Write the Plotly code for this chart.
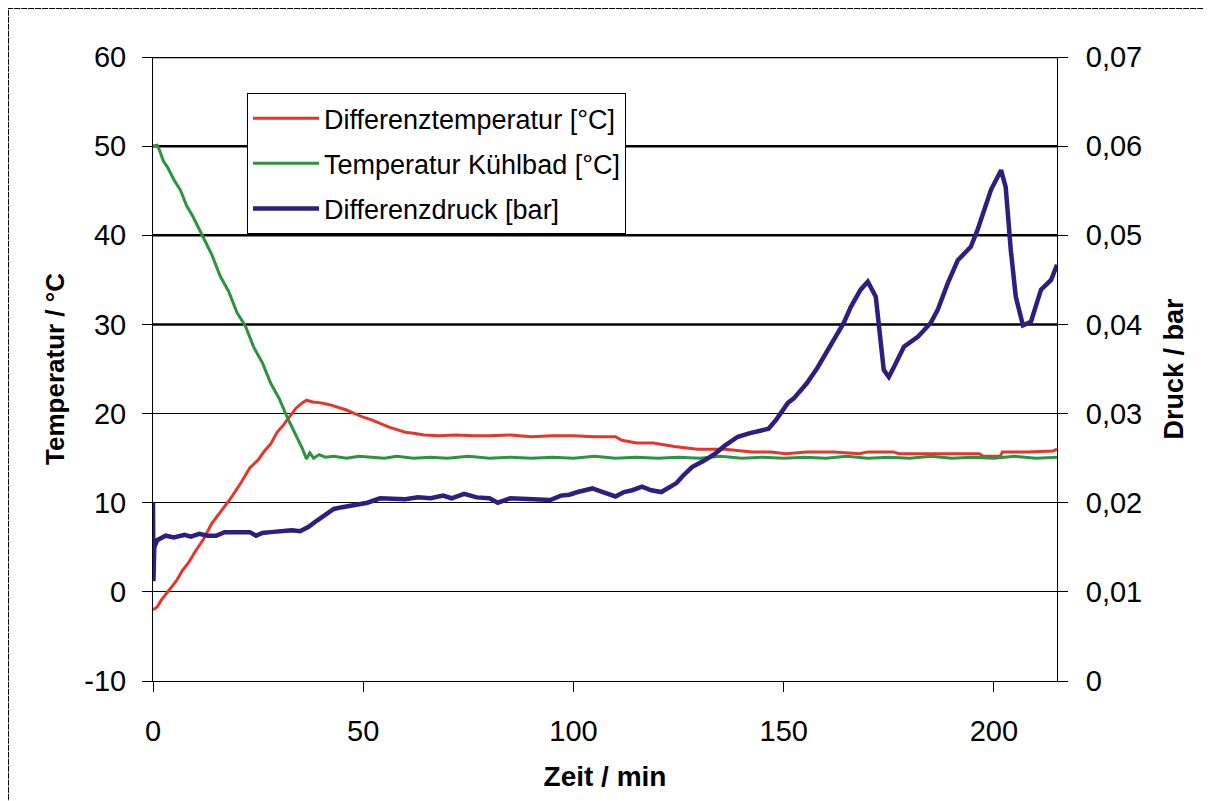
import plotly.graph_objects as go

# ---------------- data ----------------
time_red = [0, 1, 2, 3, 4, 5.5, 7, 8.5, 10, 12,
            14, 16.5, 18.5, 21, 23, 25, 26.5, 28, 29.5, 31,
            32.5, 34, 35.5, 36.5, 38, 40, 42, 44, 46, 48,
            50, 52, 54, 56, 58, 60, 62, 64.5, 68, 72,
            76, 80, 85, 90, 95, 100, 105, 110, 111.5, 115,
            119, 124, 129.5, 136, 142.5, 147, 150.5, 155.5, 162, 168,
            170, 176, 177.5, 186, 196.5, 197.5, 201.5, 202, 208, 214,
            215]
diff_temp = [-2.0, -1.7, -0.9, -0.3, 0.2, 1.2, 2.4, 3.3, 4.5, 5.9,
             7.7, 9.3, 10.5, 12.3, 13.9, 14.8, 15.8, 16.6, 17.9, 18.7,
             19.7, 20.6, 21.2, 21.5, 21.3, 21.2, 21.0, 20.7, 20.4, 20.0,
             19.6, 19.3, 18.9, 18.5, 18.2, 17.9, 17.8, 17.6, 17.5, 17.6,
             17.5, 17.5, 17.6, 17.4, 17.5, 17.5, 17.4, 17.4, 17.0, 16.7,
             16.7, 16.3, 16.0, 16.0, 15.7, 15.7, 15.5, 15.7, 15.7, 15.5,
             15.7, 15.7, 15.5, 15.5, 15.5, 15.2, 15.2, 15.7, 15.7, 15.8,
             16.0]

time_green = [0, 1, 1.5, 2.5, 3.5, 5, 6.5, 8, 9.5, 11,
              12.5, 14, 16, 18, 20, 22, 24, 26, 28, 30,
              32, 34, 35.5, 36.5, 37.3, 38.2, 39.5, 41, 43, 46,
              49, 52, 55, 58, 62, 66, 70, 75, 80, 85,
              90, 95, 100, 105, 110, 115, 120, 125, 130, 135,
              140, 145, 150, 155, 160, 165, 170, 175, 180, 185,
              190, 195, 200, 205, 210, 215]
bath_temp = [50.0, 50.1, 49.6, 48.3, 47.6, 46.2, 45.1, 43.3, 42.1, 40.7,
             39.3, 37.8, 35.4, 33.7, 31.3, 29.8, 27.4, 25.7, 23.4, 21.7,
             19.5, 17.6, 16.1, 14.9, 15.6, 15.0, 15.4, 15.1, 15.2, 15.0,
             15.2, 15.1, 15.0, 15.2, 15.0, 15.1, 15.0, 15.2, 15.0, 15.1,
             15.0, 15.1, 15.0, 15.2, 15.0, 15.1, 15.0, 15.1, 15.0, 15.2,
             15.0, 15.1, 15.0, 15.1, 15.0, 15.2, 15.0, 15.1, 15.0, 15.2,
             15.0, 15.1, 15.0, 15.2, 15.0, 15.1]

time_blue = [0, 0.1, 0.3, 1, 3, 5, 7.5, 9, 11, 13,
             15, 17, 19, 21, 23, 24.5, 26, 28, 30, 33,
             35, 37, 39, 41, 43, 45, 47, 49, 51, 54,
             57, 60, 63, 66, 69, 71, 74, 77, 80, 82,
             85, 88, 91, 94.5, 97, 99, 101, 104.5, 107, 110,
             112, 114, 116.3, 118.5, 120.9, 122.5, 124.5, 126, 128.2, 131,
             133.7, 136, 139.1, 142, 146.4, 148.2, 151, 152.4, 155.5, 158.1,
             161, 164.3, 166, 168.3, 170, 171.9, 173.8, 175, 176.2, 178.6,
             181.9, 185, 186.6, 189, 191.4, 194.5, 196.1, 197.6, 199.3, 201.7,
             202.8, 204, 205.2, 206.9, 208.8, 211.2, 213.6, 215]
diff_press = [0.0200, 0.0112, 0.0150, 0.0158, 0.0163, 0.0161, 0.0164, 0.0162, 0.0165, 0.0163,
              0.0163, 0.0167, 0.0167, 0.0166, 0.0167, 0.0163, 0.0166, 0.0167, 0.0168, 0.0169,
              0.0168, 0.0173, 0.0180, 0.0186, 0.0193, 0.0195, 0.0197, 0.0199, 0.0200, 0.0205,
              0.0205, 0.0204, 0.0206, 0.0205, 0.0208, 0.0205, 0.0210, 0.0206, 0.0205, 0.0200,
              0.0205, 0.0204, 0.0203, 0.0203, 0.0208, 0.0209, 0.0212, 0.0216, 0.0212, 0.0207,
              0.0212, 0.0214, 0.0218, 0.0214, 0.0212, 0.0217, 0.0222, 0.0230, 0.0240, 0.0247,
              0.0255, 0.0264, 0.0274, 0.0278, 0.0283, 0.0293, 0.0312, 0.0317, 0.0334, 0.0352,
              0.0375, 0.0402, 0.0420, 0.0439, 0.0448, 0.0431, 0.0349, 0.0341, 0.0352, 0.0375,
              0.0386, 0.0402, 0.0416, 0.0446, 0.0472, 0.0487, 0.0506, 0.0528, 0.0551, 0.0573,
              0.0554, 0.0484, 0.0431, 0.0399, 0.0403, 0.0439, 0.0450, 0.0467]

x_ticks = [0, 50, 100, 150, 200]
temp_ticks = [-10, 0, 10, 20, 30, 40, 50, 60]
temp_labels = ["-10", "0", "10", "20", "30", "40", "50", "60"]
press_ticks = [0, 0.01, 0.02, 0.03, 0.04, 0.05, 0.06, 0.07]
press_labels = ["0", "0,01", "0,02", "0,03", "0,04", "0,05", "0,06", "0,07"]
heavy_grid = [30, 40, 50, 60]

names = ["Differenztemperatur [°C]", "Temperatur Kühlbad [°C]", "Differenzdruck [bar]"]

# ---------------- figure ----------------
FONT = "Liberation Sans, Arial, sans-serif"
fig = go.Figure()
fig.add_trace(go.Scatter(x=time_red, y=diff_temp, name=names[0], mode="lines",
                         legendgroup="a", line=dict(color="#E8352B", width=3)))
fig.add_trace(go.Scatter(x=time_green, y=bath_temp, name=names[1], mode="lines",
                         legendgroup="b", line=dict(color="#2A9440", width=3)))
fig.add_trace(go.Scatter(x=time_blue, y=diff_press, name=names[2], mode="lines",
                         legendgroup="c", yaxis="y2", line=dict(color="#2B1F7F", width=4.5)))

shapes = []
for g in heavy_grid:
    shapes.append(dict(type="line", xref="paper", yref="y", x0=0, x1=1, y0=g, y1=g,
                       line=dict(color="black", width=2.5), layer="below"))
# outer frame of the figure
shapes.append(dict(type="rect", xref="paper", yref="paper",
                   x0=-0.1604, x1=1.4, y0=-0.5, y1=1.0785,
                   line=dict(color="black", width=2, dash="6px,1px"), layer="above"))

fig.update_layout(
    width=1211, height=801,
    margin=dict(l=145, r=162, t=49, b=128),
    paper_bgcolor="white", plot_bgcolor="white",
    font=dict(family=FONT, color="black"),
    showlegend=True,
    legend=dict(x=0.104, y=0.942, xanchor="left", yanchor="top",
                bgcolor="white", bordercolor="black", borderwidth=1,
                itemwidth=66, tracegroupgap=7,
                font=dict(size=27, family=FONT)),
    shapes=shapes,
    xaxis=dict(range=[0, 215], tickvals=x_ticks, ticks="outside", ticklen=10,
               tickcolor="black", showline=True, linecolor="black", linewidth=1,
               showgrid=False, zeroline=False, tickfont=dict(size=29),
               ticklabelstandoff=14,
               title=dict(text="Zeit / min", font=dict(size=28, weight="bold"), standoff=20)),
    yaxis=dict(range=[-10, 60], tickvals=temp_ticks, ticktext=temp_labels,
               ticks="outside", ticklen=10,
               tickcolor="black", showline=True, linecolor="black", linewidth=1,
               showgrid=True, gridcolor="black", gridwidth=1, zeroline=False,
               tickfont=dict(size=29), ticklabelstandoff=10,
               title=dict(text="Temperatur / °C", font=dict(size=26, weight="bold"), standoff=12)),
    yaxis2=dict(range=[0, 0.07], tickvals=press_ticks, ticktext=press_labels,
                overlaying="y", side="right", ticks="outside", ticklen=10,
                tickcolor="black", showline=True, linecolor="black", linewidth=1,
                showgrid=False, zeroline=False, tickfont=dict(size=29), ticklabelstandoff=12,
                title=dict(text="Druck / bar", font=dict(size=27, weight="bold"), standoff=22)),
)

fig.write_html("out.html")
